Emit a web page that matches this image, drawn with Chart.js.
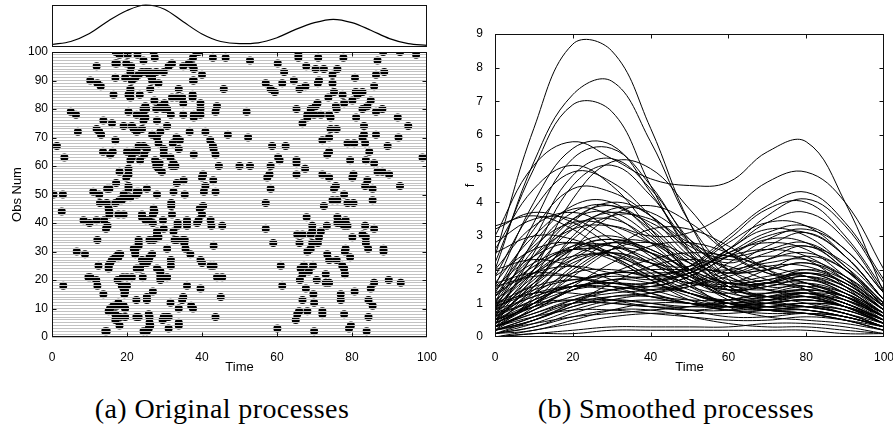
<!DOCTYPE html>
<html>
<head>
<meta charset="utf-8">
<script src="https://cdn.jsdelivr.net/npm/chart.js@4.4.1/dist/chart.umd.min.js"></script>
<style>
  body { margin: 0; background: #fff; width: 893px; height: 430px; overflow: hidden; position: relative; }
  canvas { position: absolute; }
  .cap { position: absolute; top: 393px; font-family: "Liberation Serif", "DejaVu Serif", serif; font-size: 28px; letter-spacing: 0.4px; color: #000; white-space: nowrap; transform: translateX(-50%); }
</style>
</head>
<body>
<canvas id="rasterChart" width="446" height="390" style="left:0;top:0"></canvas>
<canvas id="rateChart" width="379" height="46" style="left:50px;top:3px"></canvas>
<canvas id="smoothChart" width="438" height="390" style="left:455px;top:0"></canvas>
<div class="cap" style="left:222px">(a) Original processes</div>
<div class="cap" style="left:676px">(b) Smoothed processes</div>
<script>
// intensity curve shown above the raster (relative scale)
const rateTimes = [0, 5, 10, 15, 20, 25, 30, 35, 40, 45, 50, 55, 60, 65, 70, 75, 80, 85, 90, 95, 100]
const rateValues = [0.06, 0.13, 0.32, 0.62, 0.87, 1.0, 0.9, 0.6, 0.31, 0.13, 0.08, 0.1, 0.22, 0.42, 0.58, 0.66, 0.58, 0.4, 0.2, 0.08, 0.04]

// event times per observation: [time, obs]
const spikes = [
  [42.9,98],[46.3,98],[52.8,97],[65.7,99],[65.7,98],[60.2,96],[71,98],[77.7,98],[88.3,100],[92.8,100],[97.1,99],[86.8,97],
  [67.8,95],[70.3,94],[72.5,94],[76.1,94],[61.9,93],[74.8,92],[86.4,92],[88.6,93],[80.8,91],[40,92],[57,89],[61.4,89],
  [64.5,90],[58.3,87],[59.4,86],[71.2,90],[70.9,89],[74.8,89],[66,87],[67.6,88],[45.8,87],[85.9,88],[75.2,86],[77.5,85],
  [81,86],[82.8,86],[81.5,85],[73.7,84],[77.9,82],[80.1,83],[85,83],[84.1,81],[70.8,82],[70.3,81],[69,80],[65.2,80],
  [75.7,81],[75.9,80],[82.8,80],[86.4,79],[88.1,80],[51.9,79],[39.6,82],[39.6,80],[44,81],[43.6,79],[68.1,78],[69.9,78],
  [71.7,78],[73.9,78],[74.3,77],[68.1,77],[66.8,75],[81.1,77],[92.2,77],[95,74],[83.2,74],[74.3,73],[75.9,73],[40.9,72],
  [46.9,71],[52.3,70],[83.2,71],[82.8,70],[86.4,71],[92.4,70],[73.9,70],[72.1,69],[78.8,68],[80.6,68],[83.5,68],[42.2,69],
  [42.9,67],[43.1,66],[58.7,67],[62.3,67],[89.5,67],[73.4,64],[73.9,65],[84.6,65],[43.6,64],[60.3,63],[60.7,62],[98.8,63],
  [79.5,62],[83.7,62],[85.9,61],[44.5,60],[50,60],[52.8,60],[58.3,60],[58,57],[57.4,56],[65.2,62],[65.2,61],[67.5,59],
  [86.8,58],[88.1,58],[89.9,57],[65.2,57],[72.1,57],[73.9,56],[75.7,53],[80.4,57],[80.1,56],[84.1,55],[83.5,53],[92.8,53],
  [43,55],[40.3,57],[40,56],[40.9,53],[40.5,51],[43.6,51],[75.2,52],[77.9,50],[85.5,52],
  [17,100],[18,99],[20.2,99],[22.8,99],[27.1,100],[27.4,98],[24.4,97],[38.5,100],[39.1,100],[37.6,98],[16.9,96],[17.3,96],
  [19.8,96],[21.1,95],[11.9,95],[20.9,93],[32,96],[35,95],[36.5,96],[37.6,95],[37.8,94],[31.1,95],[24,93],[25.1,93],
  [26,93],[27.8,93],[29.8,93],[23.1,92],[26,92],[26.7,91],[26.7,90],[28.4,89],[19.5,91],[21.3,90],[22.2,91],[16.9,91],
  [10.2,90],[12.1,89],[13,88],[37.6,90],[37.8,90],[20.9,87],[20.9,86],[26.2,87],[33.8,87],[16.4,85],[20.4,85],[20.9,84],
  [23.4,85],[27.3,83],[32,84],[33.3,84],[34.7,84],[37.5,85],[37.5,84],[35,82],[30,82],[24.9,81],[24.4,80],[25.1,80],
  [27.8,80],[28.9,81],[29.8,80],[30.7,80],[20.4,79],[22.6,78],[31.7,78],[35,78],[37.8,78],[37.8,77],[39.6,78],[5,79],
  [6.4,78],[24.4,78],[24.9,77],[24.4,76],[28,76],[13.7,76],[16,75],[6.9,72],[11.9,73],[12.6,72],[13.1,71],[19.1,74],
  [21.3,74],[21.8,73],[22.6,72],[24,73],[26.7,71],[28,70],[28.4,68],[28.9,72],[30.7,74],[36.7,72],[16.9,69],[33.2,70],
  [34.1,69],[32.2,68],[33.8,66],[29.8,66],[23.1,67],[24.4,67],[25.3,66],[22.6,65],[20,65],[21.8,65],[21.3,63],[20.9,62],
  [24.6,64],[23.5,62],[13.6,65],[15.5,64],[16.2,65],[1.3,67],[3.3,63],[18,58],[19.8,56],[20.4,59],[20.4,57],[27.5,62],
  [28.7,61],[27.8,60],[28.4,59],[29.3,58],[29.8,64],[31.6,63],[32.4,61],[32.9,60],[32,60],[33.3,54],[35.1,55],[37.8,64],
  [17.1,54],[14.7,52],[15.3,52],[20.4,53],[20.4,52],[23.1,51],[25.3,52],[19.1,50],[11,51],[12.6,50],[0.4,50],[2.9,50],
  [28,50],[32.4,51],[35.4,50],
  [2.6,44],[12.8,47],[14.6,47],[15.1,45],[15.3,44],[15.3,43],[17.7,43],[19.1,43],[16.9,47],[18,48],[18.6,48],[19.8,49],
  [20.9,49],[22.6,50],[22.6,51],[31.8,47],[31.8,46],[32,43],[27.1,45],[27.3,44],[26.9,43],[24,43],[24,42],[25.8,41],
  [26.9,40],[25,41],[29.6,41],[29.8,38],[28,37],[28,36],[26,34],[27.1,34],[28.4,35],[23.1,34],[23.1,33],[32.4,37],
  [30.7,31],[32.7,34],[33.3,34],[34.9,34],[35.4,34],[35.3,33],[35.6,31],[33.5,40],[33.5,39],[36,41],[36,40],[36,39],
  [38.7,40],[39.1,41],[39.4,45],[40.3,46],[40,43],[42.3,41],[42.5,39],[45.4,39],[8.4,41],[10,40],[11.9,41],[13.9,41],
  [14.4,38],[14.8,39],[12.1,34],[6.6,30],[8.8,29],[17.7,29],[18.2,29],[17.7,28],[16.9,28],[16,27],[15.5,26],[15.1,25],
  [15.1,24],[21.8,31],[22.2,30],[22.2,29],[23.1,32],[24,27],[24.4,26],[25.3,26],[25.8,27],[26,28],[26.7,29],[22.6,24],
  [23.5,24],[28,24],[28.9,23],[28.9,22],[28.9,21],[28.9,20],[31.7,25],[31.7,27],[30.7,21],[12.4,25],[9.7,21],[10.2,21],
  [11.8,20],[12.1,18],[3,18],[17.5,20],[18.9,21],[20,21],[21.3,21],[18.6,18],[20,18],[19.1,17],[19.5,16],[19.3,15],
  [24.2,21],[39.6,17],[44,21],[45.4,21],[45,14],[43.6,7],[36,18],[26.9,16],[25.3,14],[25.3,13],[22.5,13],[13.7,15],
  [15.1,9],[15.5,10],[16.4,11],[17.3,11],[17.7,12],[19.1,11],[19.5,10],[16.9,8],[18.2,7],[19.5,7],[16.9,6],[18,4],
  [22.5,7],[23.1,7],[25.8,8],[26,7],[29.8,7],[30.7,7],[31.1,7],[29.5,6],[31.1,3],[31.6,12],[33.8,10],[34.7,13],
  [35,14],[33.8,5],[33.8,4],[37.1,11],[37.6,10],[14.2,2],[14.6,2],[24.4,2],[25.3,2],[26,5],[26.2,4],[25.8,3],
  [39.6,27],[40,26],[42.3,25],[43.1,25],[43.1,32],[36.9,29],
  [58.3,52],[74.8,48],[76.1,48],[78.8,47],[80.4,47],[72.5,46],[85.5,48],[57,47],[67.9,42],[76.1,42],[76.1,40],[77,40],
  [78.3,41],[77.9,39],[78.8,39],[69.4,39],[69.4,37],[73.3,39],[83.5,39],[85.9,38],[57,38],[65.4,36],[66.8,36],[69,36],
  [71.7,37],[71.2,35],[70.9,33],[80.1,35],[82.8,36],[83.7,35],[83.7,33],[84.3,31],[59,33],[66,33],[69.4,33],[69,31],
  [68.1,30],[78.3,31],[78.1,30],[88.4,31],[88.4,30],[73.4,29],[73.9,27],[75.9,27],[79.5,28],[61,25],[67.2,25],[66.3,24],
  [69.6,25],[68.5,23],[66.8,22],[77.4,25],[77.9,24],[78.1,22],[66.1,20],[70.6,20],[73,22],[73,19],[73.9,19],[85.9,19],
  [89.8,20],[93,19],[61.4,18],[67.7,17],[85,17],[80.7,16],[69.7,15],[77,15],[77,13],[66.8,13],[69.9,12],[84.4,13],
  [85.5,11],[65.9,9],[65.4,8],[65,6],[68.1,9],[72.1,9],[72.1,8],[77.9,8],[84.4,7],[60.1,3],[69.9,2],[79.7,4],
  [79.2,3],[83.9,2]
]

// smoothed processes, sampled at curveTimes
const curveTimes = [0, 10, 20, 30, 40, 50, 60, 70, 80, 90, 100]
const smoothCurves = [
  [2.4,6.2,8.7,8.5,6.2,3.4,1.7,1.2,1.3,1.0,0.5],
  [2.0,5.2,7.2,7.6,5.8,3.4,2.0,1.5,1.5,1.1,0.6],
  [2.2,5.0,6.9,6.7,4.5,2.5,1.4,1.1,1.2,0.9,0.4],
  [3.0,5.1,5.8,5.3,4.7,4.5,4.6,5.5,5.8,4.0,1.3],
  [1.2,2.4,3.2,3.3,3.0,3.1,3.7,4.6,4.9,4.0,2.0],
  [1.5,4.0,5.6,5.7,4.3,2.6,1.5,1.2,1.0,0.7,0.3],
  [1.0,3.4,5.3,5.6,4.5,2.8,1.6,1.4,1.6,1.3,0.7],
  [0.8,2.9,4.8,5.3,4.4,2.9,2.0,2.0,2.2,1.7,0.9],
  [2.6,4.4,5.1,4.5,3.2,2.0,1.2,0.9,0.8,0.6,0.3],
  [0.5,2.0,4.1,5.2,5.0,3.8,2.5,1.9,1.8,1.4,0.7],
  [1.8,3.8,4.9,4.6,3.6,2.4,1.7,1.8,2.0,1.6,0.8],
  [0.6,2.5,4.5,5.1,4.2,2.8,2.2,2.7,3.1,2.4,1.1],
  [1.3,3.2,4.4,4.3,3.6,2.7,2.3,2.4,2.3,1.5,0.6],
  [0.4,1.8,3.4,4.0,3.6,2.5,1.5,1.2,1.2,0.9,0.4],
  [1.0,2.6,3.7,3.9,3.2,2.2,1.6,1.6,1.8,1.4,0.7],
  [0.3,1.5,3.0,3.8,3.7,2.9,2.0,1.6,1.5,1.1,0.5],
  [1.6,3.0,3.8,3.6,2.8,1.9,1.4,1.5,1.7,1.3,0.6],
  [0.7,2.2,3.5,3.9,3.3,2.3,1.9,2.3,2.7,2.0,0.9],
  [2.0,3.3,3.7,3.2,2.4,1.7,1.2,1.0,0.9,0.7,0.4],
  [0.5,1.6,2.9,3.6,3.5,2.8,2.4,2.6,2.8,2.1,1.0],
  [1.2,2.8,3.9,4.0,3.1,1.9,1.1,0.8,0.7,0.5,0.2],
  [0.2,1.2,2.6,3.6,3.9,3.4,2.5,1.9,1.6,1.2,0.6],
  [2.8,3.5,3.5,2.9,2.2,1.8,1.6,1.7,1.9,1.5,0.8],
  [0.9,2.4,3.5,3.7,3.0,2.0,1.4,1.3,1.4,1.2,0.6],
  [1.4,2.7,3.4,3.3,2.8,2.2,1.9,2.0,2.2,1.8,1.0],
  [0.6,2.0,3.2,3.7,3.4,2.6,1.8,1.4,1.3,1.0,0.4],
  [3.2,3.7,3.4,2.7,2.0,1.6,1.5,1.6,1.6,1.2,0.5],
  [0.8,2.2,3.3,3.5,2.9,2.0,1.5,1.6,1.9,1.6,0.8],
  [0.5,1.6,2.6,2.9,2.5,1.8,1.3,1.2,1.3,1.0,0.5],
  [1.0,2.0,2.7,2.7,2.2,1.5,1.0,0.8,0.8,0.6,0.3],
  [0.3,1.1,2.1,2.8,2.8,2.2,1.5,1.1,0.9,0.7,0.3],
  [1.5,2.4,2.8,2.5,1.9,1.3,1.0,1.0,1.1,0.9,0.4],
  [0.7,1.7,2.6,2.9,2.6,2.0,1.6,1.7,1.9,1.5,0.7],
  [1.2,2.1,2.6,2.5,2.0,1.5,1.3,1.6,2.0,1.7,0.9],
  [0.4,1.3,2.3,2.8,2.6,1.9,1.2,0.9,0.8,0.6,0.3],
  [0.9,1.9,2.6,2.7,2.3,1.7,1.4,1.5,1.7,1.4,0.7],
  [1.8,2.6,2.8,2.4,1.8,1.3,1.1,1.2,1.3,1.0,0.5],
  [0.2,0.9,1.9,2.6,2.8,2.4,1.8,1.4,1.2,0.9,0.4],
  [0.6,1.5,2.4,2.8,2.5,1.8,1.2,1.1,1.3,1.2,0.7],
  [1.1,1.9,2.4,2.4,2.0,1.6,1.6,2.0,2.4,2.0,1.0],
  [0.8,1.8,2.7,3.0,2.5,1.6,0.9,0.6,0.5,0.4,0.2],
  [0.3,1.0,2.0,2.6,2.5,2.0,1.6,1.6,1.8,1.5,0.8],
  [1.4,2.2,2.6,2.3,1.7,1.1,0.8,0.8,0.9,0.8,0.4],
  [0.5,1.4,2.2,2.5,2.2,1.7,1.4,1.6,1.9,1.6,0.8],
  [0.6,1.3,1.9,2.0,1.8,1.9,2.6,3.6,4.1,3.3,1.6],
  [0.3,0.8,1.2,1.4,1.6,2.1,3.0,3.9,4.3,3.4,1.7],
  [1.0,1.5,1.7,1.6,1.6,2.0,2.8,3.4,3.3,2.4,1.1],
  [0.4,1.0,1.6,1.9,1.9,2.0,2.5,3.1,3.3,2.6,1.3],
  [0.2,0.6,1.1,1.4,1.5,1.8,2.4,3.0,3.1,2.4,1.1],
  [0.8,1.6,2.3,2.5,2.2,2.1,2.6,3.4,3.7,2.9,1.3],
  [0.5,1.1,1.5,1.6,1.6,1.9,2.5,2.8,2.6,1.8,0.8],
  [1.3,1.9,2.1,1.9,1.7,1.9,2.6,3.2,3.0,2.1,0.9],
  [0.3,0.7,1.1,1.3,1.4,1.6,2.0,2.5,2.7,2.2,1.1],
  [0.9,1.4,1.7,1.8,1.8,2.1,2.9,3.8,4.0,3.0,1.4],
  [0.1,0.4,0.8,1.1,1.3,1.6,2.2,2.9,3.2,2.6,1.3],
  [0.7,1.2,1.5,1.5,1.4,1.5,1.8,2.1,2.1,1.6,0.8],
  [0.4,0.9,1.4,1.7,1.8,2.0,2.4,2.6,2.4,1.7,0.8],
  [1.5,1.8,1.8,1.6,1.5,1.8,2.4,2.9,2.8,2.0,0.9],
  [0.2,0.5,0.9,1.2,1.3,1.5,1.9,2.3,2.5,2.0,1.0],
  [0.3,0.8,1.4,1.7,1.6,1.3,1.0,0.9,0.9,0.7,0.3],
  [0.6,1.1,1.5,1.6,1.4,1.1,0.9,0.9,1.0,0.8,0.4],
  [0.1,0.5,1.0,1.4,1.5,1.3,1.0,0.8,0.7,0.5,0.2],
  [0.9,1.3,1.5,1.4,1.2,1.0,1.0,1.1,1.2,1.0,0.5],
  [0.2,0.6,1.0,1.2,1.2,1.1,1.1,1.3,1.5,1.3,0.7],
  [0.5,0.9,1.1,1.1,1.0,0.9,0.9,1.0,1.1,0.9,0.5],
  [0.1,0.3,0.7,1.0,1.1,1.0,0.8,0.7,0.7,0.6,0.3],
  [1.0,1.3,1.3,1.1,0.9,0.8,0.9,1.1,1.3,1.1,0.6],
  [0.3,0.7,1.0,1.0,0.9,0.8,0.8,1.0,1.2,1.1,0.6],
  [0.4,1.0,1.6,1.9,1.8,1.4,1.0,0.8,0.7,0.5,0.2],
  [0.1,0.2,0.5,0.8,1.0,1.0,0.9,0.9,1.0,0.9,0.5],
  [0.7,1.0,1.1,1.0,0.9,0.9,1.0,1.0,0.9,0.7,0.3],
  [0.2,0.5,0.9,1.1,1.0,0.8,0.6,0.6,0.7,0.6,0.3],
  [0.5,1.0,1.4,1.5,1.3,1.0,0.8,0.9,1.0,0.9,0.4],
  [0.0,0.2,0.4,0.6,0.7,0.7,0.7,0.8,0.9,0.8,0.4],
  [0.1,0.3,0.6,0.8,0.8,0.6,0.4,0.3,0.3,0.2,0.1],
  [0.0,0.1,0.2,0.3,0.3,0.3,0.3,0.4,0.4,0.3,0.1],
  [0.3,0.6,0.8,0.8,0.7,0.6,0.5,0.5,0.6,0.5,0.3],
  [0.0,0.1,0.1,0.2,0.2,0.2,0.2,0.2,0.2,0.1,0.1],
  [0.2,0.4,0.6,0.7,0.8,0.9,1.1,1.3,1.4,1.2,0.6],
  [3.3,3.6,3.2,2.4,1.7,1.2,0.9,0.8,0.8,0.6,0.3],
  [2.5,3.0,2.9,2.4,1.8,1.3,1.0,1.0,1.1,0.9,0.4],
  [2.0,2.3,2.1,1.7,1.3,1.0,0.9,1.0,1.1,0.9,0.5],
  [1.6,1.9,1.8,1.5,1.2,1.0,1.0,1.2,1.4,1.2,0.6],
  [0.3,0.8,1.5,2.2,2.7,2.8,2.5,2.0,1.6,1.2,0.6],
  [0.5,0.9,1.4,1.9,2.3,2.5,2.4,2.1,1.8,1.3,0.6],
  [0.2,0.5,1.0,1.6,2.1,2.3,2.1,1.7,1.4,1.0,0.5],
  [0.8,1.2,1.6,1.9,2.0,2.0,2.0,2.2,2.3,1.8,0.9],
  [0.4,1.0,1.8,2.6,3.2,3.2,2.7,2.0,1.4,0.9,0.4]
]

const axisFont = { family: "'Liberation Sans', Arial, sans-serif", size: 12 }
const titleFont = { family: "'Liberation Sans', Arial, sans-serif", size: 13 }

// box around the plot area with small inward ticks (matlab look)
const framePlugin = {
  id: 'frame',
  afterDraw(chart, args, opts) {
    const { ctx, chartArea, scales } = chart
    const l = Math.round(chartArea.left) + 0.5
    const r = Math.round(chartArea.right) - 0.5
    const t = Math.round(chartArea.top) + 0.5
    const b = Math.round(chartArea.bottom) - 0.5
    const len = opts.len || 4
    ctx.save()
    ctx.strokeStyle = '#111'
    ctx.lineWidth = 1
    ctx.strokeRect(l, t, r - l, b - t)
    ctx.beginPath()
    ;(opts.xTicks || []).forEach((v) => {
      const px = Math.round(scales.x.getPixelForValue(v)) + 0.5
      ctx.moveTo(px, b); ctx.lineTo(px, b - len)
      ctx.moveTo(px, t); ctx.lineTo(px, t + len)
    })
    ;(opts.yTicks || []).forEach((v) => {
      const py = Math.round(scales.y.getPixelForValue(v)) + 0.5
      ctx.moveTo(l, py); ctx.lineTo(l + len, py)
      ctx.moveTo(r, py); ctx.lineTo(r - len, py)
    })
    ctx.stroke()
    ctx.restore()
  }
}

function xAxis() {
  return {
    type: 'linear', min: 0, max: 100,
    ticks: { stepSize: 20, font: axisFont, color: '#000', padding: 5, maxRotation: 0 },
    grid: { display: false },
    border: { display: false },
    title: { display: true, text: 'Time', font: titleFont, color: '#000', padding: { top: 0, bottom: 15 } },
    afterFit(scale) { scale.height = 53; scale.paddingLeft = 0; scale.paddingRight = 0 }
  }
}

// top panel: intensity
new Chart(document.getElementById('rateChart'), {
  type: 'line',
  data: {
    datasets: [{
      data: rateTimes.map((t, i) => ({ x: t, y: rateValues[i] })),
      borderColor: '#000', borderWidth: 1.2, pointRadius: 0,
      cubicInterpolationMode: 'monotone', clip: false
    }]
  },
  options: {
    responsive: false, animation: false,
    layout: { padding: 2 },
    plugins: { legend: { display: false }, tooltip: { enabled: false }, frame: {} },
    scales: {
      x: { type: 'linear', min: 0, max: 100, display: false },
      y: { min: 0, max: 1, display: false }
    }
  },
  plugins: [framePlugin]
})

// left: raster of events
new Chart(document.getElementById('rasterChart'), {
  type: 'scatter',
  data: {
    datasets: [{
      data: spikes.map((s) => ({ x: s[0], y: s[1] })),
      backgroundColor: '#000', borderWidth: 0, pointRadius: 4
    }]
  },
  options: {
    responsive: false, animation: false,
    layout: { padding: { top: 52, right: 19, left: 0, bottom: 0 } },
    plugins: {
      legend: { display: false }, tooltip: { enabled: false },
      frame: { xTicks: [20, 40, 60, 80], yTicks: [10, 20, 30, 40, 50, 60, 70, 80, 90] }
    },
    scales: {
      x: xAxis(),
      y: {
        min: 0, max: 100,
        ticks: {
          stepSize: 1, autoSkip: false, font: axisFont, color: '#000', padding: 4,
          callback: (v) => (v % 10 === 0 ? v : '')
        },
        grid: { color: '#c2c2c2', lineWidth: 1, drawTicks: false, z: 1 },
        border: { display: false },
        title: { display: true, text: 'Obs Num', font: titleFont, color: '#000', padding: { top: 10, bottom: 0 } },
        afterFit(scale) { scale.width = 52; scale.paddingTop = 0; scale.paddingBottom = 0 }
      }
    }
  },
  plugins: [framePlugin]
})

// right: smoothed processes
let curveSets = []
smoothCurves.forEach((c) => {
  curveSets.push({
    data: curveTimes.map((t, i) => ({ x: t, y: c[i] })),
    borderColor: '#000', borderWidth: 1, pointRadius: 0,
    tension: 0.4
  })
})

new Chart(document.getElementById('smoothChart'), {
  type: 'line',
  data: { datasets: curveSets },
  options: {
    responsive: false, animation: false,
    layout: { padding: { top: 34, right: 9, left: 0, bottom: 0 } },
    plugins: {
      legend: { display: false }, tooltip: { enabled: false },
      frame: { xTicks: [20, 40, 60, 80], yTicks: [1, 2, 3, 4, 5, 6, 7, 8] }
    },
    scales: {
      x: xAxis(),
      y: {
        min: 0, max: 9,
        ticks: { stepSize: 1, font: axisFont, color: '#000', padding: 4 },
        grid: { display: false },
        border: { display: false },
        title: { display: true, text: 'f', font: titleFont, color: '#000', padding: { top: 8, bottom: 0 } },
        afterFit(scale) { scale.width = 40; scale.paddingTop = 0; scale.paddingBottom = 0 }
      }
    }
  },
  plugins: [framePlugin]
})
</script>
</body>
</html>
